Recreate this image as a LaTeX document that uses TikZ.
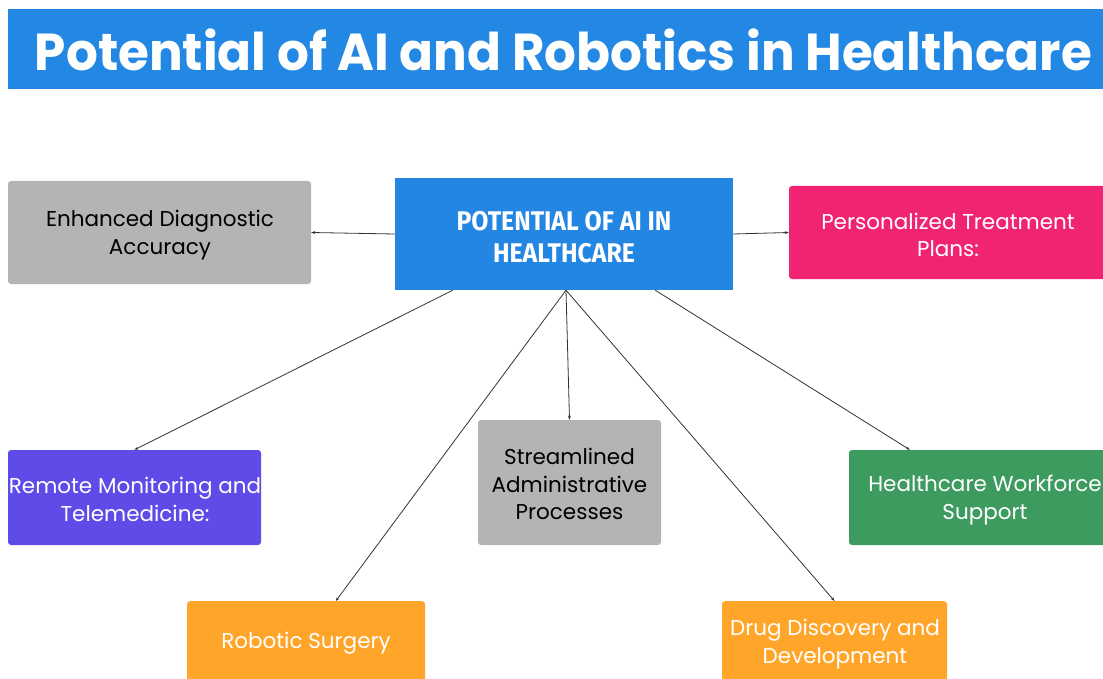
\documentclass[tikz,border=0pt]{standalone}
\usepackage{fontspec}
\setmainfont{Poppins}
\newfontfamily\headfont{Fira Sans}
\usetikzlibrary{arrows.meta}
\definecolor{titleblue}{HTML}{2388E3}
\definecolor{cblue}{HTML}{2386E2}
\definecolor{boxgray}{HTML}{B4B4B4}
\definecolor{boxpink}{HTML}{F02473}
\definecolor{boxpurple}{HTML}{5E4BE8}
\definecolor{boxgreen}{HTML}{3D9B60}
\definecolor{boxorange}{HTML}{FFA62A}
\definecolor{linegray}{HTML}{333333}
\tikzset{
  box/.style={rectangle, rounded corners=3pt, inner sep=0pt},
  txt/.style={inner sep=0pt, align=center, font=\fontsize{21.5}{27.5}\selectfont},
  conn/.style={draw=linegray, line width=0.8pt, -{Stealth[length=4pt,width=3pt]}}
}
\begin{document}
\begin{tikzpicture}[x=1pt,y=-1pt]
\useasboundingbox (0,0) rectangle (1103,679);
\clip (0,0) rectangle (1103,679);
\fill[white] (0,0) rectangle (1103,679);
% title
\node[fill=titleblue, minimum width=1110, minimum height=80, inner sep=0pt, anchor=north west] (title) at (8,9) {};
\node[text=white, inner sep=0pt, font=\fontsize{52}{60}\selectfont\bfseries, anchor=center] (titletext) at (563.5,50) {\resizebox{1057pt}{\height}{Potential of AI and Robotics in Healthcare}};
% central
\node[box, rounded corners=0pt, fill=cblue, minimum width=338, minimum height=112] (c) at (564,234) {};
\node[txt, text=white, font=\headfont\bfseries\fontsize{27}{32}\selectfont] (ct) at (564,237) {\scalebox{0.92}[1]{POTENTIAL OF AI IN}\\\scalebox{0.92}[1]{HEALTHCARE}};
% boxes
\node[box, fill=boxgray, minimum width=303, minimum height=103] (e) at (159.5,232.5) {};
\node[txt, text=black] (et) at (160,235) {Enhanced Diagnostic\\Accuracy};
\node[box, fill=boxpink, minimum width=330, minimum height=93] (p) at (954,232.5) {};
\node[txt, text=white] (pt) at (948,235) {Personalized Treatment\\Plans:};
\node[box, fill=boxpurple, minimum width=253, minimum height=95] (r) at (134.5,497.5) {};
\node[txt, text=white] (rt) at (135,499.5) {Remote Monitoring and\\Telemedicine:};
\node[box, fill=boxgray, minimum width=183, minimum height=125] (s) at (569.5,482.5) {};
\node[txt, text=black] (st) at (569.5,484) {Streamlined\\Administrative\\Processes};
\node[box, fill=boxgreen, minimum width=270, minimum height=95] (w) at (984,497.5) {};
\node[txt, text=white] (wt) at (985,500) {Healthcare Workforce\\Support};
\node[box, fill=boxorange, minimum width=238, minimum height=90, anchor=north] (rs) at (306,601) {};
\node[txt, text=white] (rst) at (306,643) {Robotic Surgery};
\node[box, fill=boxorange, minimum width=225, minimum height=90, anchor=north] (dd) at (834.5,601) {};
\node[txt, text=white] (ddt) at (835,644) {Drug Discovery and\\Development};
% connectors
\draw[conn] (c.west) -- (e.east);
\draw[conn] (c.east) -- (p.west);
\draw[conn] ([xshift=58]c.south west) -- (r.north);
\draw[conn] ([xshift=2]c.south) -- (s.north);
\draw[conn] ([xshift=2]c.south) -- ([xshift=149]rs.north west);
\draw[conn] ([xshift=2]c.south) -- (dd.north);
\draw[conn] ([xshift=-78]c.south east) -- ([xshift=61]w.north west);
\end{tikzpicture}
\end{document}
